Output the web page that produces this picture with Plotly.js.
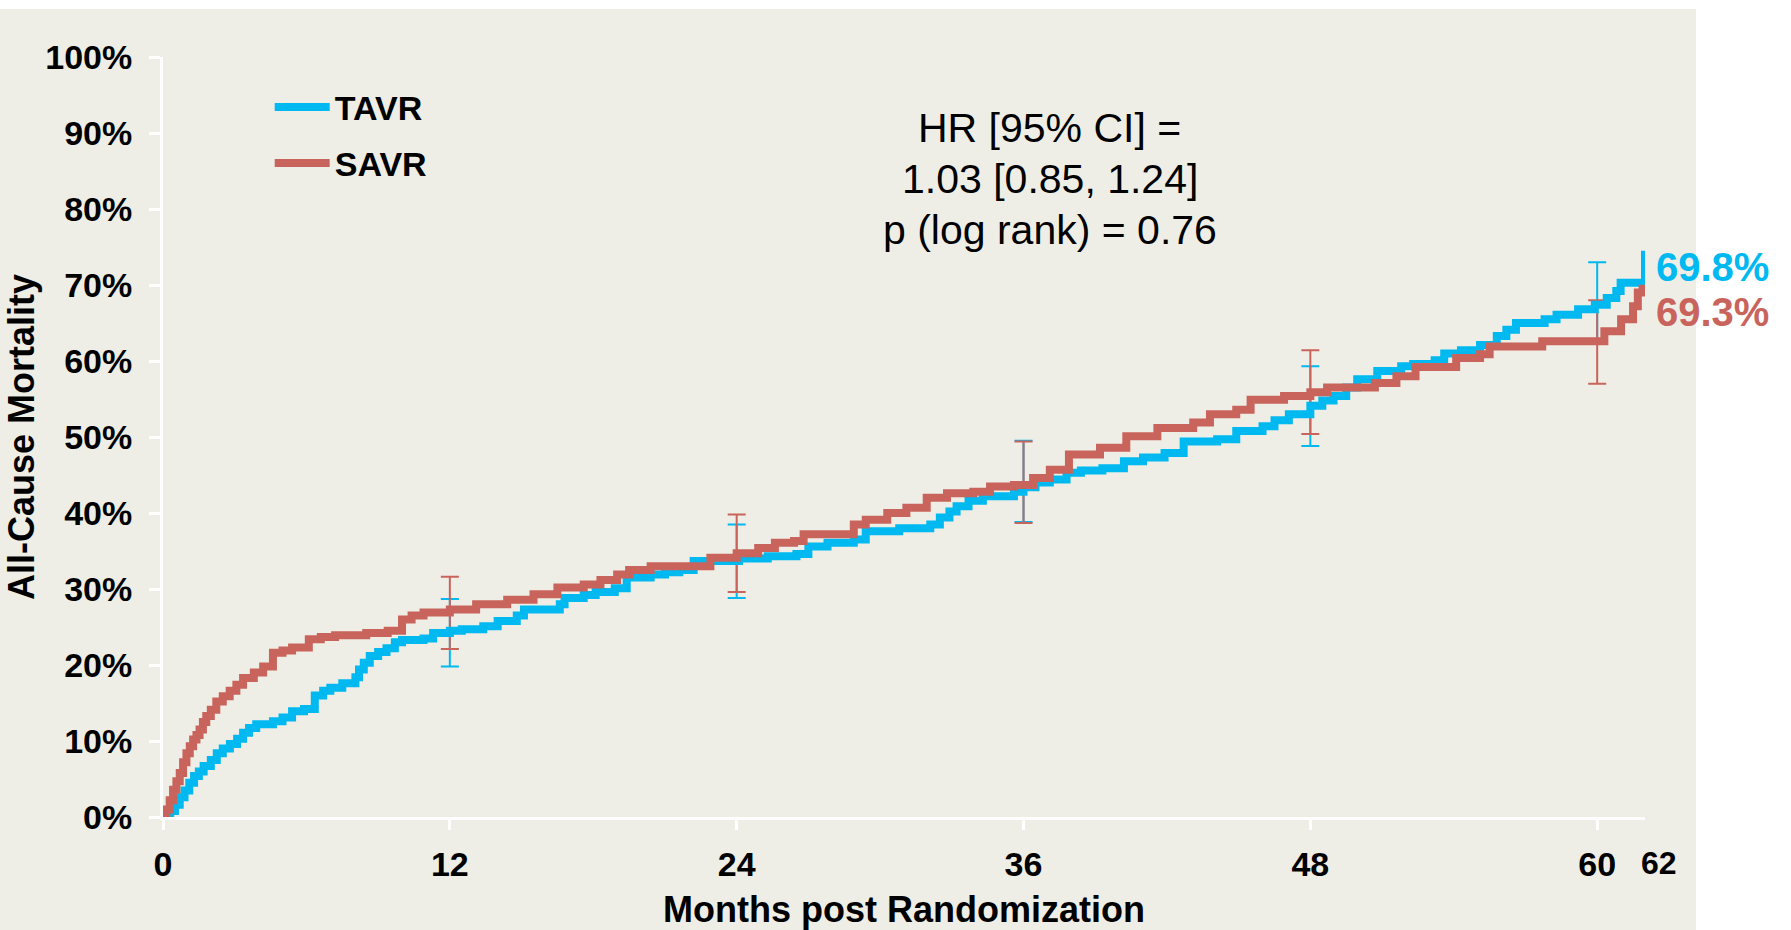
<!DOCTYPE html>
<html><head><meta charset="utf-8">
<script src="https://cdn.plot.ly/plotly-3.0.1.min.js"></script>
<style>
html,body{margin:0;padding:0;background:#ffffff;}
#wrap{position:relative;width:1791px;height:930px;overflow:hidden;}
#panel{position:absolute;left:0;top:9px;width:1696px;height:921px;background:#efeee6;}
#chart{position:absolute;left:0;top:0;width:1791px;height:930px;}
</style></head><body>
<div id="wrap"><div id="panel"></div><div id="chart"></div></div>
<script>
// ---- data ----
const tavrMonths = [0,0.3,0.5,0.7,0.9,1.1,1.3,1.5,1.7,2.0,2.25,2.5,2.8,3.1,3.35,3.6,3.9,4.6,5.0,5.4,5.9,6.35,6.7,7.0,7.5,8.05,8.2,8.4,8.65,9.0,9.35,9.7,10.0,10.9,11.3,12.0,12.5,13.4,14.0,14.8,15.1,16.6,16.8,17.6,18.1,18.9,19.4,20.4,21.0,21.6,22.2,24.1,25.3,26.5,27.0,27.8,28.9,29.4,30.8,32.1,32.5,32.9,33.2,33.7,34.3,35.6,36.0,36.5,37.1,37.8,38.4,39.3,40.2,41.0,41.9,42.7,44.1,44.9,46.0,46.5,47.1,48.0,48.5,48.97,49.5,49.96,50.8,51.8,52.3,53.2,53.6,54.3,55.1,55.8,56.2,56.6,57.8,58.3,59.2,59.9,60.4,60.8,60.98,62,62];
const tavrPct    = [0,0.8,1.6,2.6,3.5,4.5,5.4,6.0,6.7,7.5,8.4,9.0,9.6,10.3,11.1,11.7,12.2,12.6,13.1,13.9,14.2,16.0,16.6,17.0,17.6,18.4,19.4,20.3,21.2,21.7,22.2,23.0,23.3,23.5,24.2,24.5,24.7,25.1,25.8,26.5,27.3,28.0,28.8,29.2,29.6,30.1,31.5,31.9,32.2,32.5,33.7,34.0,34.3,34.6,35.6,36.1,36.5,37.6,38.0,38.5,39.4,40.2,40.9,41.6,42.2,42.8,43.4,44.0,44.4,45.3,45.6,45.9,46.8,47.3,47.9,49.4,49.7,50.8,51.4,52.2,53.0,54.1,54.8,55.4,56.5,57.6,58.7,59.3,59.6,60.1,61.0,61.4,62.1,63.3,64.1,65.0,65.5,66.1,66.8,67.4,68.3,69.2,70.3,70.3,74.5];

const savrMonths = [0,0.05,0.14,0.28,0.42,0.56,0.70,0.84,0.98,1.12,1.26,1.4,1.53,1.67,1.81,2.0,2.23,2.5,2.79,3.07,3.35,3.8,4.19,4.6,5.0,5.4,6.1,6.6,7.2,8.5,9.4,10.0,10.4,10.9,12.0,13.1,14.4,15.5,16.5,17.6,18.3,19.0,19.5,20.4,22.9,24.0,24.9,25.6,26.4,26.8,28.9,29.4,30.3,31.1,31.95,32.8,33.9,34.6,35.6,36.4,37.1,37.9,39.2,40.3,41.6,43.1,43.8,44.9,45.5,46.9,48.0,48.7,50.7,51.6,52.4,54.1,55.1,55.5,57.7,60.3,61.0,61.5,61.7,61.9,62];
const savrPct    = [0,0.5,1.0,2.2,3.6,4.7,5.8,7.2,8.4,9.3,10.2,10.8,11.5,12.5,13.3,14.1,15.2,15.9,16.6,17.4,18.3,19.0,19.8,21.6,21.9,22.3,23.4,23.7,23.9,24.2,24.5,26.0,26.5,26.9,27.3,28.0,28.6,29.3,30.2,30.6,31.2,31.9,32.5,33.0,34.1,34.7,35.4,36.1,36.3,37.2,38.5,39.1,40.0,40.7,42.0,42.6,42.8,43.5,43.7,44.6,45.7,47.7,48.6,50.1,51.2,51.9,53.0,53.6,54.9,55.4,55.9,56.5,57.1,58.0,59.2,60.4,60.9,61.9,62.6,63.9,65.5,67.2,69.0,69.5,69.5];

// 95% CI bars at yearly landmarks
const ciMonths = [12,24,36,48,60];
const tavrLow  = [19.8,28.8,38.8,48.8,62.5];
const tavrHigh = [28.7,38.5,49.5,59.3,73.0];
const savrLow  = [22.1,29.6,38.7,50.4,57.0];
const savrHigh = [31.6,39.8,49.4,61.4,68.0];

const seriesNames = ['TAVR','SAVR'];
const endLabels = ['69.8%','69.3%'];
const xTickVals = [0,12,24,36,48,60];
const xExtraTick = '62';
const yTickVals = [0,10,20,30,40,50,60,70,80,90,100];
const yTickText = ['0%','10%','20%','30%','40%','50%','60%','70%','80%','90%','100%'];
const statsText = ['HR [95% CI] =','1.03 [0.85, 1.24]','p (log rank) = 0.76'];

// ---- style ----
const BLUE = '#00b9f0';
const RED = '#c9645c';
const FONT = 'Arial, "Liberation Sans", sans-serif';

function ciTrace(low, high, color){
  const mid = low.map((l,i)=> (l+high[i])/2);
  const half = low.map((l,i)=> (high[i]-l)/2);
  return {
    x: ciMonths, y: mid, type:'scatter', mode:'markers',
    marker:{size:1, opacity:0}, showlegend:false, hoverinfo:'skip',
    error_y:{type:'data', array: half, symmetric:true, color: color, thickness:2, width:9}
  };
}

const traces = [
  ciTrace(tavrLow, tavrHigh, BLUE),
  ciTrace(savrLow, savrHigh, RED),
  {x: tavrMonths, y: tavrPct, type:'scatter', mode:'lines', name: seriesNames[0], legendgroup:'a',
   line:{color: BLUE, width:8, shape:'hv'}},
  {x: savrMonths, y: savrPct, type:'scatter', mode:'lines', name: seriesNames[1], legendgroup:'b',
   line:{color: RED, width:8, shape:'hv'}}
];

const statsY = [90.6, 84.0, 77.3];
const statAnns = statsText.map((t,i)=>({xref:'x', yref:'y', x:37.1, y:statsY[i], text:t, showarrow:false,
  xanchor:'center', yanchor:'middle', font:{family: FONT, size:41, color:'#000'}}));

const layout = {
  width:1791, height:930,
  margin:{l:163, r:146, t:57, b:113},
  paper_bgcolor:'rgba(0,0,0,0)', plot_bgcolor:'rgba(0,0,0,0)',
  font:{family: FONT, color:'#000'},
  showlegend:true,
  legend:{x:0.072, y:0.972, xanchor:'left', yanchor:'top', bgcolor:'rgba(0,0,0,0)',
          font:{family: FONT, size:34, weight:'bold', color:'#000'}, tracegroupgap:9, itemwidth:55},
  xaxis:{range:[0,62], tickvals:xTickVals, showline:true, linecolor:'#ffffff', linewidth:3,
         ticks:'outside', ticklen:10, tickwidth:3, tickcolor:'#ffffff', showgrid:false, zeroline:false,
         tickfont:{family: FONT, size:34, weight:'bold', color:'#000'}, ticklabelstandoff:5,
         title:{text:'Months post Randomization', font:{family: FONT, size:36, weight:'bold', color:'#000'}, standoff:18}},
  yaxis:{range:[0,100], tickvals:yTickVals, ticktext:yTickText, showline:true, linecolor:'#ffffff', linewidth:3,
         ticks:'outside', ticklen:11, tickwidth:3, tickcolor:'#ffffff', showgrid:false, zeroline:false,
         tickfont:{family: FONT, size:34, weight:'bold', color:'#000'}, ticklabelstandoff:10,
         title:{text:'All-Cause Mortality', font:{family: FONT, size:36, weight:'bold', color:'#000'}, standoff:0}},
  annotations: statAnns.concat([
    {xref:'x', yref:'y', x:62, y:72.4, text:endLabels[0], showarrow:false, xanchor:'left', yanchor:'middle', xshift:9,
     font:{family: FONT, size:40, weight:'bold', color: BLUE}},
    {xref:'x', yref:'y', x:62, y:66.4, text:endLabels[1], showarrow:false, xanchor:'left', yanchor:'middle', xshift:9,
     font:{family: FONT, size:40, weight:'bold', color: RED}},
    {xref:'x', yref:'paper', x:62, y:0, text:xExtraTick, showarrow:false, xanchor:'center', yanchor:'middle', xshift:14, yshift:-46,
     font:{family: FONT, size:32, weight:'bold', color:'#000'}}
  ])
};

Plotly.newPlot('chart', traces, layout, {displayModeBar:false, staticPlot:true});
</script>
</body></html>
